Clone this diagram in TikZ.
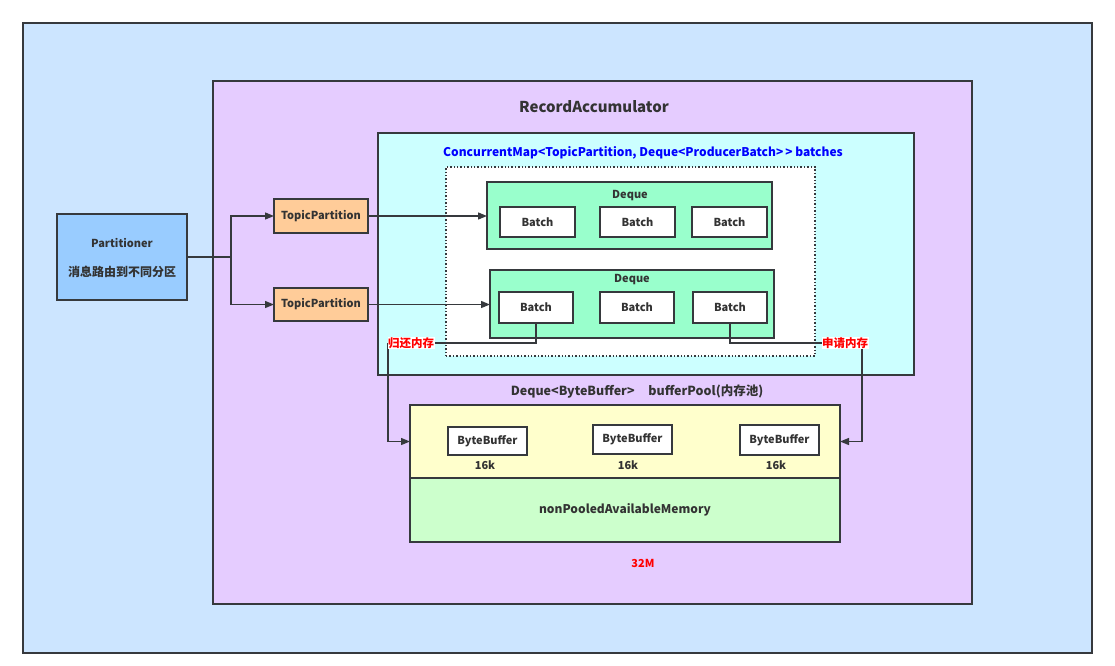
\documentclass[tikz,border=0pt]{standalone}
\usepackage{fontspec}
\setmainfont{Noto Sans CJK SC}
\usetikzlibrary{arrows.meta}
\definecolor{edge}{HTML}{36393D}
\definecolor{txt}{HTML}{333333}
\definecolor{outerblue}{HTML}{CCE5FF}
\definecolor{purp}{HTML}{E5CCFF}
\definecolor{cyanbg}{HTML}{CCFFFF}
\definecolor{dqgreen}{HTML}{99FFCC}
\definecolor{partblue}{HTML}{99CCFF}
\definecolor{tporange}{HTML}{FFCC99}
\definecolor{yel}{HTML}{FFFFCC}
\definecolor{lgreen}{HTML}{CCFFCC}
\definecolor{lblue}{HTML}{0000FF}
\definecolor{lred}{HTML}{FF0000}
\begin{document}
\begin{tikzpicture}[x=1pt,y=-1pt,
  box/.style={draw=edge, line width=1.4pt, inner sep=0pt, outer sep=0pt, anchor=north west,
    font=\bfseries\fontsize{11}{13}\selectfont, text=txt},
  lbl/.style={inner sep=1pt, font=\bfseries\fontsize{11}{13}\selectfont, text=txt},
  conn/.style={draw=edge, line width=1.3pt},
  arr/.style={conn, -{Triangle[length=9pt,width=7pt]}},
  redlbl/.style={inner sep=0.5pt, fill=white, text=lred, font=\bfseries\fontsize{11.5}{13}\selectfont}]
\useasboundingbox (0,0) rectangle (1115,665);
\node[box, fill=outerblue, minimum width=1069pt, minimum height=630pt] (outer) at (23,23) {};
\node[box, fill=purp, minimum width=759pt, minimum height=523pt] (acc) at (213,81) {};
\node[lbl, font=\bfseries\fontsize{15}{17}\selectfont] (acct) at (594,107) {RecordAccumulator};
\node[box, fill=cyanbg, minimum width=536pt, minimum height=242pt] (cmap) at (378,133) {};
\node[lbl, text=lblue, font=\bfseries\fontsize{12}{14}\selectfont] (cmapt) at (643,153) {ConcurrentMap{<}TopicPartition, Deque{<}ProducerBatch{>}\,{>} batches};
\node[box, fill=white, draw=edge, dotted, line width=1.3pt, minimum width=369pt, minimum height=189pt] (dot) at (446,167) {};
% deques
\node[box, fill=dqgreen, minimum width=285pt, minimum height=67pt] (dq1) at (487,182) {};
\node[lbl] at (630,196) {Deque};
\node[box, fill=white, minimum width=75pt, minimum height=30pt] (b11) at (500,207) {Batch};
\node[box, fill=white, minimum width=75pt, minimum height=30pt] (b12) at (600,207) {Batch};
\node[box, fill=white, minimum width=75pt, minimum height=30pt] (b13) at (692,207) {Batch};
\node[box, fill=dqgreen, minimum width=284pt, minimum height=68pt] (dq2) at (490,270) {};
\node[lbl] at (632,280) {Deque};
\node[box, fill=white, minimum width=74pt, minimum height=31pt] (b21) at (499,292) {Batch};
\node[box, fill=white, minimum width=74pt, minimum height=31pt] (b22) at (600,292) {Batch};
\node[box, fill=white, minimum width=74pt, minimum height=31pt] (b23) at (693,292) {Batch};
% partitioner
\node[box, fill=partblue, minimum width=130pt, minimum height=86pt] (part) at (57,214) {};
\node[lbl] at (122,243) {Partitioner};
\node[lbl, font=\bfseries\fontsize{12}{14}\selectfont] at (122,272) {消息路由到不同分区};
\node[box, fill=tporange, minimum width=94pt, minimum height=34pt] (tp1) at (274,199) {TopicPartition};
\node[box, fill=tporange, minimum width=94pt, minimum height=33pt] (tp2) at (274,288) {TopicPartition};
\coordinate (j) at (231,257);
\draw[conn] (part.east) -- (j);
\draw[arr] (j) |- (tp1.west);
\draw[arr] (j) |- (tp2.west);
\draw[arr] (tp1.east) -- (tp1.east -| dq1.west);
\draw[arr] (tp2.east) -- (tp2.east -| dq2.west);
% buffer pool
\node[lbl, font=\bfseries\fontsize{12.5}{15}\selectfont] (poolt) at (637,392) {Deque{<}ByteBuffer{>}\hspace{1.1em}bufferPool(内存池)};
\node[box, fill=yel, minimum width=430pt, minimum height=73pt] (pooltop) at (410,405) {};
\node[box, fill=lgreen, minimum width=430pt, minimum height=64pt, font=\bfseries\fontsize{12}{14}\selectfont] (poolbot) at (410,478) {nonPooledAvailableMemory};
\node[box, fill=white, minimum width=79pt, minimum height=28pt] (bb1) at (448,427) {ByteBuffer};
\node[box, fill=white, minimum width=79pt, minimum height=29pt] (bb2) at (593,425) {ByteBuffer};
\node[box, fill=white, minimum width=79pt, minimum height=30pt] (bb3) at (740,425) {ByteBuffer};
\node[lbl] at (485,465) {16k};
\node[lbl] at (628,465) {16k};
\node[lbl] at (776,465) {16k};
\node[lbl, text=lred] (m32) at (643,563) {32M};
% memory return / request
\coordinate (r1) at (388,343);
\coordinate (r2) at (862,343);
\draw[conn] (b21.south) |- (r1);
\draw[arr] (r1) |- (pooltop.west);
\draw[conn] (b23.south) |- (r2);
\draw[arr] (r2) |- (pooltop.east);
\node[redlbl] (ret) at (411,343) {归还内存};
\node[redlbl] (req) at (845,343) {申请内存};
\end{tikzpicture}
\end{document}
